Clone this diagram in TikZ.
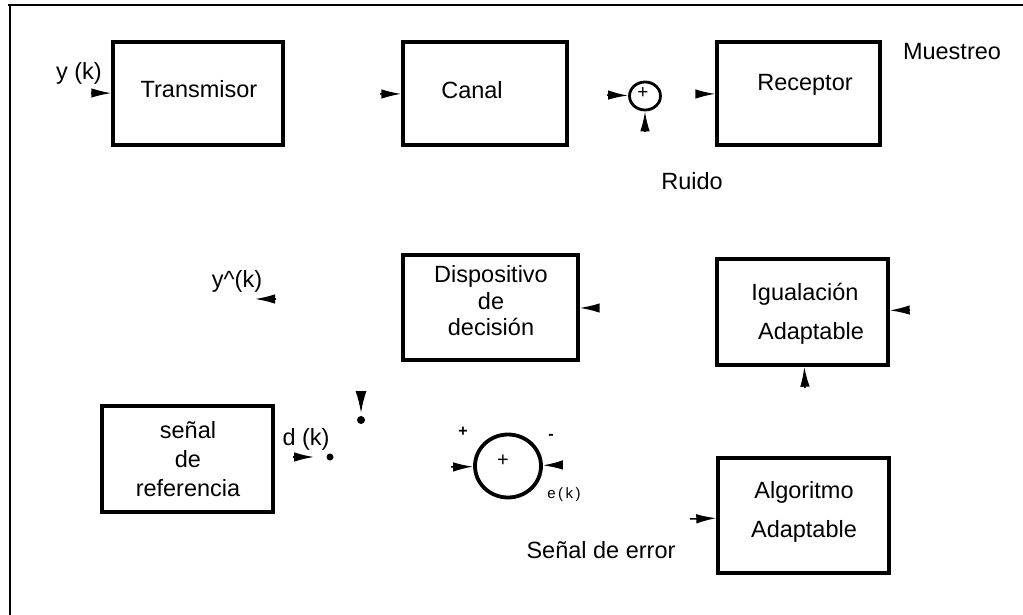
\documentclass[tikz,border=0pt]{standalone}
\usepackage{fontspec}
\setmainfont{Liberation Sans}
\usetikzlibrary{arrows.meta,shapes.geometric}
\begin{document}
\begin{tikzpicture}[x=1pt,y=-1pt,
  blk/.style={draw, line width=3.4pt, rectangle, inner sep=0pt},
  lbl/.style={font=\fontsize{23.5}{27}\selectfont, inner sep=0pt, align=center},
  small/.style={font=\fontsize{16}{18}\selectfont, inner sep=0pt},
  arr/.style={line width=1.5pt, -{Latex[length=20pt,width=9.5pt]}},
  wedge/.style={line width=1.5pt, -{Latex[length=22pt,width=11pt]}},
  dotn/.style={circle, fill, inner sep=0pt, minimum size=7pt}]
\useasboundingbox (0,0) rectangle (1023,615);
% frame
\draw[line width=2pt] (8,5) -- (1023,5);
\draw[line width=2.5pt] (10,5) -- (10,615);

% boxes
\node[blk, minimum width=170pt, minimum height=103pt] (tx) at (198,93.5) {};
\node[blk, minimum width=164pt, minimum height=103pt] (canal) at (485,93.5) {};
\node[blk, minimum width=163pt, minimum height=103pt] (rec) at (798.5,93.5) {};
\node[blk, minimum width=175pt, minimum height=105pt] (disp) at (490.5,307.5) {};
\node[blk, minimum width=171pt, minimum height=106pt] (igu) at (802.5,312) {};
\node[blk, minimum width=171pt, minimum height=115pt] (alg) at (803.5,515.5) {};
\node[blk, minimum width=171pt, minimum height=106pt] (ref) at (187.5,459) {};

% summing junctions
\node[draw, ellipse, minimum width=31pt, minimum height=28pt, line width=2.8pt, inner sep=0pt] (sum1) at (645,96) {};
\node[draw, ellipse, minimum width=66pt, minimum height=63pt, line width=3.8pt, inner sep=0pt] (sum2) at (508,466) {};

% texts
\node[lbl] (txT) at (199,89) {Transmisor};
\node[lbl] (canalT) at (472,90) {Canal};
\node[lbl] (recT) at (805,85) {Receptor};
\node[lbl] (mues) at (952,52) {Muestreo};
\node[lbl] (ruido) at (692,181) {Ruido};
\node[lbl] (yk) at (79,73) {y (k)};
\node[lbl] (yhat) at (237,281) {y\textasciicircum(k)};
\node[lbl, font=\fontsize{23.5}{26.5}\selectfont] (dispT) at (491,301) {Dispositivo\\de\\decisión};
\node[lbl] (iguT) at (805,314) {Igualación\\[12pt]\hspace{12pt}Adaptable};
\node[lbl] (algT) at (804,512) {Algoritmo\\[12pt]Adaptable};
\node[lbl, font=\fontsize{23.5}{29}\selectfont] (refT) at (188,459) {señal\\de\\referencia};
\node[lbl] (dk) at (306,439) {d (k)};
\node[lbl] (err) at (601,550) {Señal de error};
\node[small, font=\fontsize{15}{17}\selectfont] (ek) at (564,495) {e\,(\,k\,)};
\node[small] (plusA) at (463,432) {\textbf{+}};
\node[small] (minusA) at (551,437) {\textbf{-}};
\node[small, font=\fontsize{19}{21}\selectfont] (plus1) at (643,93) {+};
\node[small, font=\fontsize{20}{22}\selectfont] (plus2) at (503,461) {+};

% dots
\node[dotn] (dot1) at (330,457) {};
\node[dotn, minimum size=8pt] (dot2) at (361,420) {};

% connector stubs (arrowheads only)
\coordinate (a1) at (91,93);
\draw[arr] (a1) -- (tx);
\coordinate (a2) at (380,94);
\draw[arr] (a2) -- (canal);
\coordinate (a3) at (607,95);
\draw[arr] (a3) -- (sum1);
\coordinate (a4) at (645,132);
\draw[arr] (a4) -- (sum1);
\coordinate (a5) at (696,94);
\draw[arr] (a5) -- (rec);
\coordinate (a6) at (598,308);
\draw[arr] (a6) -- (disp);
\coordinate (a7) at (910,310);
\draw[arr] (a7) -- (igu);
\coordinate (a8) at (805,388);
\draw[arr] (a8) -- (igu);
\coordinate (a9s) at (276,299);
\coordinate (a9e) at (255,299);
\draw[arr] (a9s) -- (a9e);
\coordinate (a10s) at (293,457);
\coordinate (a10e) at (314,457);
\draw[arr] (a10s) -- (a10e);
\coordinate (a11s) at (361,391);
\coordinate (a11e) at (361,413);
\draw[wedge] (a11s) -- (a11e);
\coordinate (a12) at (451,467);
\draw[arr] (a12) -- (sum2);
\coordinate (a13) at (560,465);
\draw[arr] (a13) -- (sum2);
\coordinate (a14) at (690,519);
\draw[arr] (a14) -- (alg);
\end{tikzpicture}
\end{document}
